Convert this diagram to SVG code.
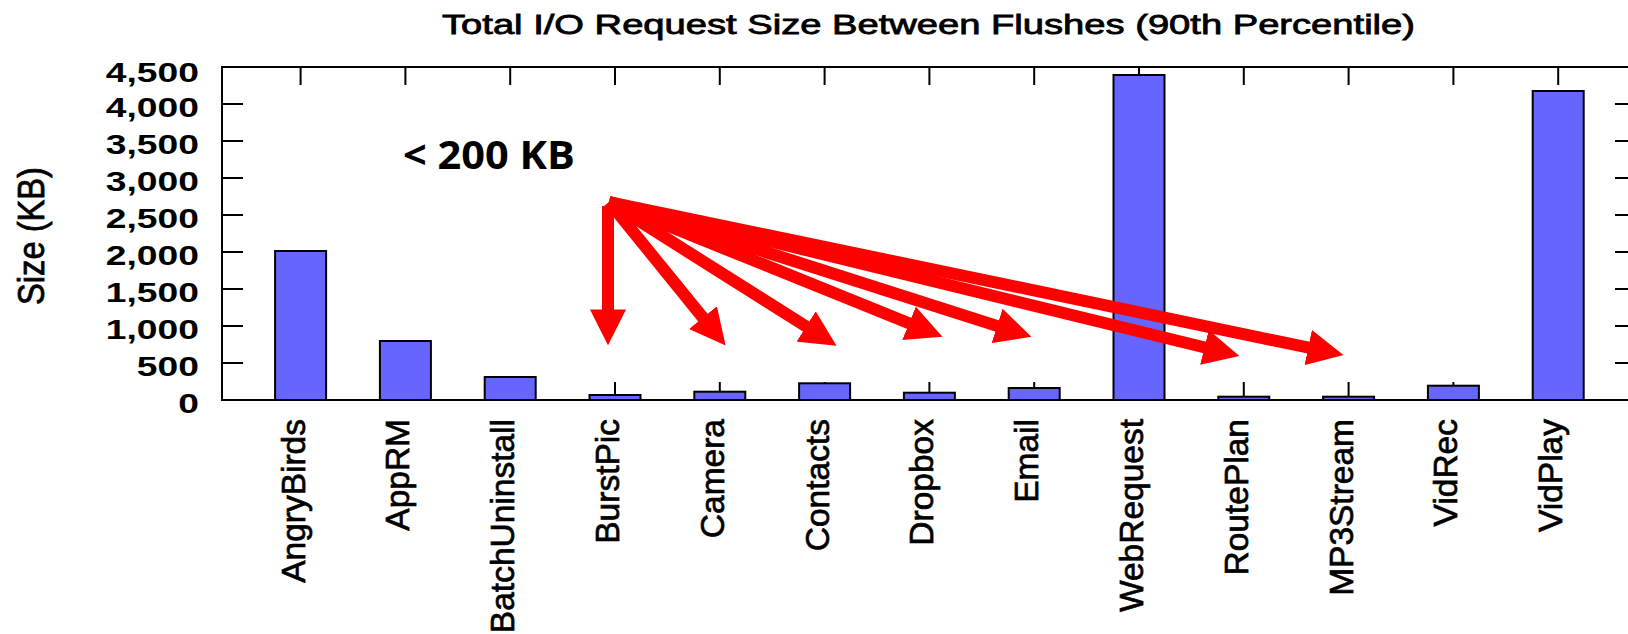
<svg xmlns="http://www.w3.org/2000/svg" width="1628" height="634" viewBox="0 0 1628 634">
<style>
.frame{fill:none;stroke:#000;stroke-width:2}
.tick{stroke:#000;stroke-width:2}
.bar{fill:#6666ff;stroke:#000;stroke-width:2}
.yl{font-family:"Liberation Sans",Arial,sans-serif;font-weight:bold;font-size:28px;text-anchor:end;fill:#000}
.xl{font-family:"Liberation Sans",Arial,sans-serif;font-size:33.5px;text-anchor:end;fill:#000;stroke:#000;stroke-width:0.7}
.title{font-family:"Liberation Sans",Arial,sans-serif;font-size:28px;fill:#000;stroke:#000;stroke-width:0.8}
.ytitle{font-family:"Liberation Sans",Arial,sans-serif;font-size:37px;text-anchor:middle;fill:#000;stroke:#000;stroke-width:0.8}
.note{font-family:"Open Sans","Liberation Sans",sans-serif;font-weight:bold;font-size:39px;fill:#000}
.arrow{stroke:#ff0000;stroke-width:12;fill:none;marker-end:url(#ah)}
</style>
<defs>
<marker id="ah" markerUnits="strokeWidth" markerWidth="3" markerHeight="3" viewBox="0 0 3 3" refX="0.05" refY="1.5" orient="auto">
<path d="M0,0 L3,1.5 L0,3 z" fill="#ff0000"/>
</marker>
</defs>
<rect x="0" y="0" width="1628" height="634" fill="#fff"/>
<text class="title" x="442" y="34.3" textLength="973" lengthAdjust="spacingAndGlyphs">Total I/O Request Size Between Flushes (90th Percentile)</text>
<g id="y-axis">
<text class="ytitle" transform="translate(44,236) rotate(-90)" textLength="138" lengthAdjust="spacingAndGlyphs">Size (KB)</text>
<text class="yl" transform="translate(199,82) scale(1.33,1)">4,500</text>
<text class="yl" transform="translate(199,117) scale(1.33,1)">4,000</text>
<text class="yl" transform="translate(199,154) scale(1.33,1)">3,500</text>
<text class="yl" transform="translate(199,191) scale(1.33,1)">3,000</text>
<text class="yl" transform="translate(199,228) scale(1.33,1)">2,500</text>
<text class="yl" transform="translate(199,265) scale(1.33,1)">2,000</text>
<text class="yl" transform="translate(199,302) scale(1.33,1)">1,500</text>
<text class="yl" transform="translate(199,339) scale(1.33,1)">1,000</text>
<text class="yl" transform="translate(199,376) scale(1.33,1)">500</text>
<text class="yl" transform="translate(199,413) scale(1.33,1)">0</text>
</g>
<g id="ticks">
<path class="tick" d="M222,104H243M222,141H243M222,178H243M222,215H243M222,252H243M222,289H243M222,326H243M222,363H243"/>
<path class="tick" d="M1615,104H1640M1615,141H1640M1615,178H1640M1615,215H1640M1615,252H1640M1615,289H1640M1615,326H1640M1615,363H1640"/>
<path class="tick" d="M300.6,67V85M405.4,67V85M510.2,67V85M615,67V85M719.8,67V85M824.6,67V85M929.4,67V85M1034.2,67V85M1139,67V85M1243.8,67V85M1348.6,67V85M1453.4,67V85M1558.2,67V85"/>
<path class="tick" d="M300.6,400V382M405.4,400V382M510.2,400V382M615,400V382M719.8,400V382M824.6,400V382M929.4,400V382M1034.2,400V382M1139,400V382M1243.8,400V382M1348.6,400V382M1453.4,400V382M1558.2,400V382"/>
</g>
<g id="bar-AngryBirds"><rect class="bar" x="275.1" y="251" width="51" height="149"/><text class="xl" transform="translate(304.6,419) rotate(-90)">AngryBirds</text></g>
<g id="bar-AppRM"><rect class="bar" x="379.9" y="341" width="51" height="59"/><text class="xl" transform="translate(409.4,419) rotate(-90)">AppRM</text></g>
<g id="bar-BatchUninstall"><rect class="bar" x="484.7" y="377" width="51" height="23"/><text class="xl" transform="translate(514.2,419) rotate(-90)">BatchUninstall</text></g>
<g id="bar-BurstPic"><rect class="bar" x="589.5" y="395" width="51" height="5"/><text class="xl" transform="translate(619,419) rotate(-90)">BurstPic</text></g>
<g id="bar-Camera"><rect class="bar" x="694.3" y="391.7" width="51" height="8.3"/><text class="xl" transform="translate(723.8,419) rotate(-90)">Camera</text></g>
<g id="bar-Contacts"><rect class="bar" x="799.1" y="383.3" width="51" height="16.7"/><text class="xl" transform="translate(828.6,419) rotate(-90)">Contacts</text></g>
<g id="bar-Dropbox"><rect class="bar" x="903.9" y="392.7" width="51" height="7.3"/><text class="xl" transform="translate(933.4,419) rotate(-90)">Dropbox</text></g>
<g id="bar-Email"><rect class="bar" x="1008.7" y="388" width="51" height="12"/><text class="xl" transform="translate(1038.2,419) rotate(-90)">Email</text></g>
<g id="bar-WebRequest"><rect class="bar" x="1113.5" y="75" width="51" height="325"/><text class="xl" transform="translate(1143,419) rotate(-90)">WebRequest</text></g>
<g id="bar-RoutePlan"><rect class="bar" x="1218.3" y="396.7" width="51" height="3.3"/><text class="xl" transform="translate(1247.8,419) rotate(-90)">RoutePlan</text></g>
<g id="bar-MP3Stream"><rect class="bar" x="1323.1" y="396.7" width="51" height="3.3"/><text class="xl" transform="translate(1352.6,419) rotate(-90)">MP3Stream</text></g>
<g id="bar-VidRec"><rect class="bar" x="1427.9" y="385.7" width="51" height="14.3"/><text class="xl" transform="translate(1457.4,419) rotate(-90)">VidRec</text></g>
<g id="bar-VidPlay"><rect class="bar" x="1532.7" y="91" width="51" height="309"/><text class="xl" transform="translate(1562.2,419) rotate(-90)">VidPlay</text></g>
<path class="frame" d="M1640,67H222V400H1640"/>
<g id="note"><text class="note" x="403" y="169.3" textLength="172" lengthAdjust="spacingAndGlyphs">&lt; 200 KB</text></g>
<g id="connectors">
<line class="arrow" x1="608" y1="206" x2="608" y2="310"/>
<line class="arrow" x1="609" y1="202" x2="703.3" y2="318.1"/>
<line class="arrow" x1="609" y1="202" x2="806.6" y2="326.8"/>
<line class="arrow" x1="609" y1="202" x2="909.6" y2="323.5"/>
<line class="arrow" x1="609" y1="202" x2="997.7" y2="326.1"/>
<line class="arrow" x1="609" y1="202" x2="1205" y2="347.5"/>
<line class="arrow" x1="609" y1="202" x2="1308.8" y2="347.7"/>
</g>
</svg>
